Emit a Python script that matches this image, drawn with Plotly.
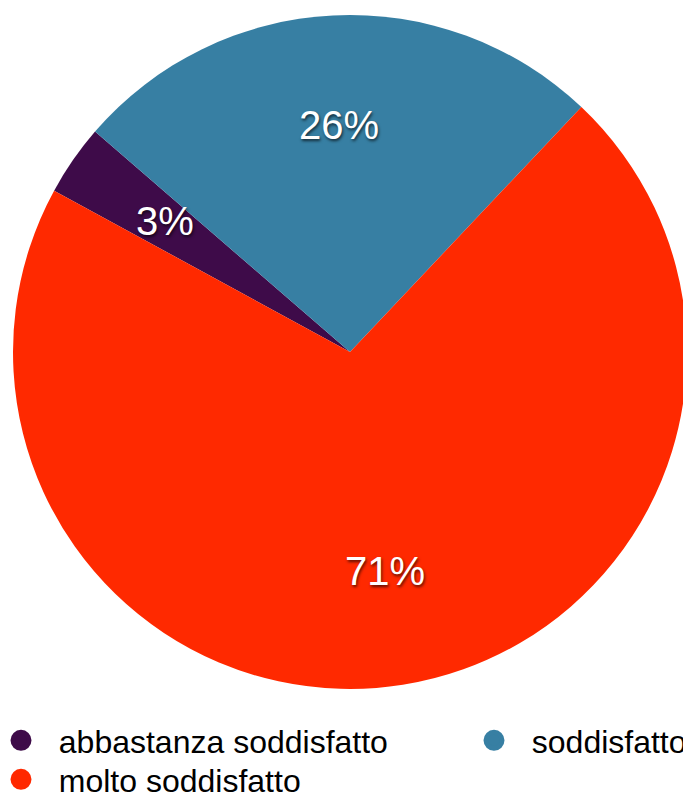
import math
import plotly.graph_objects as go

# ---- data ----
labels = ["abbastanza soddisfatto", "soddisfatto", "molto soddisfatto"]
values = [3.4, 25.7, 70.9]
colors = ["#3e0b49", "#377fa3", "#ff2900"]
legend_slots = ["legend", "legend2", "legend3"]

# the page body adds an 8px margin, so the figure is sized to fill the rest of the window
W, H = 683, 786
rotation = -61.4

# pie domain (paper fractions)
dom_x = [5 / W, 679 / W]
dom_y = [1 - 681 / H, 1 - 7 / H]

fig = go.Figure()
fig.add_trace(go.Pie(
    labels=labels, values=values, sort=False, direction="clockwise",
    rotation=rotation, marker=dict(colors=colors, line=dict(width=0)),
    textinfo="none", hoverinfo="label+percent", showlegend=False,
    domain=dict(x=dom_x, y=dom_y),
))

# legend entries
for lab, col, lg in zip(labels, colors, legend_slots):
    fig.add_trace(go.Scatter(
        x=[None], y=[None], mode="markers", name="\u00a0\u00a0" + lab,
        marker=dict(size=16, color=col, line=dict(width=5, color=col)),
        legend=lg, showlegend=True,
    ))

# percentage labels placed at 2/3 radius on each slice bisector
cx_px = (dom_x[0] + dom_x[1]) / 2 * W
cy_px = (1 - (dom_y[0] + dom_y[1]) / 2) * H
R = min((dom_x[1] - dom_x[0]) * W, (dom_y[1] - dom_y[0]) * H) / 2
total = sum(values)
ang = rotation
annotations = []
for v in values:
    span = v / total * 360
    mid = math.radians(ang + span / 2)
    px = cx_px + (2 / 3) * R * math.sin(mid)
    py = cy_px - (2 / 3) * R * math.cos(mid)
    annotations.append(dict(
        x=px / W, y=1 - py / H, xref="paper", yref="paper",
        text=f"{round(v / total * 100)}%", showarrow=False,
        xanchor="center", yanchor="middle", yshift=3,
        font=dict(family="Liberation Sans, Arial, sans-serif", size=40, color="white",
                  shadow="1px 2px 3px rgba(0,0,0,0.65)"),
    ))
    ang += span

leg_common = dict(xanchor="left", yanchor="top", orientation="v",
                  font=dict(size=32), bgcolor="rgba(0,0,0,0)")

fig.update_layout(
    width=W, height=H,
    margin=dict(l=0, r=0, t=0, b=0, autoexpand=False),
    paper_bgcolor="white", plot_bgcolor="white",
    xaxis=dict(visible=False), yaxis=dict(visible=False),
    font=dict(family="Liberation Sans, Arial, sans-serif", color="black"),
    annotations=annotations,
    legend=dict(x=-7 / W, y=1 - 705 / H, **leg_common),
    legend2=dict(x=466 / W, y=1 - 705 / H, **leg_common),
    legend3=dict(x=-7 / W, y=1 - 744 / H, **leg_common),
)

fig.write_html("out.html")
